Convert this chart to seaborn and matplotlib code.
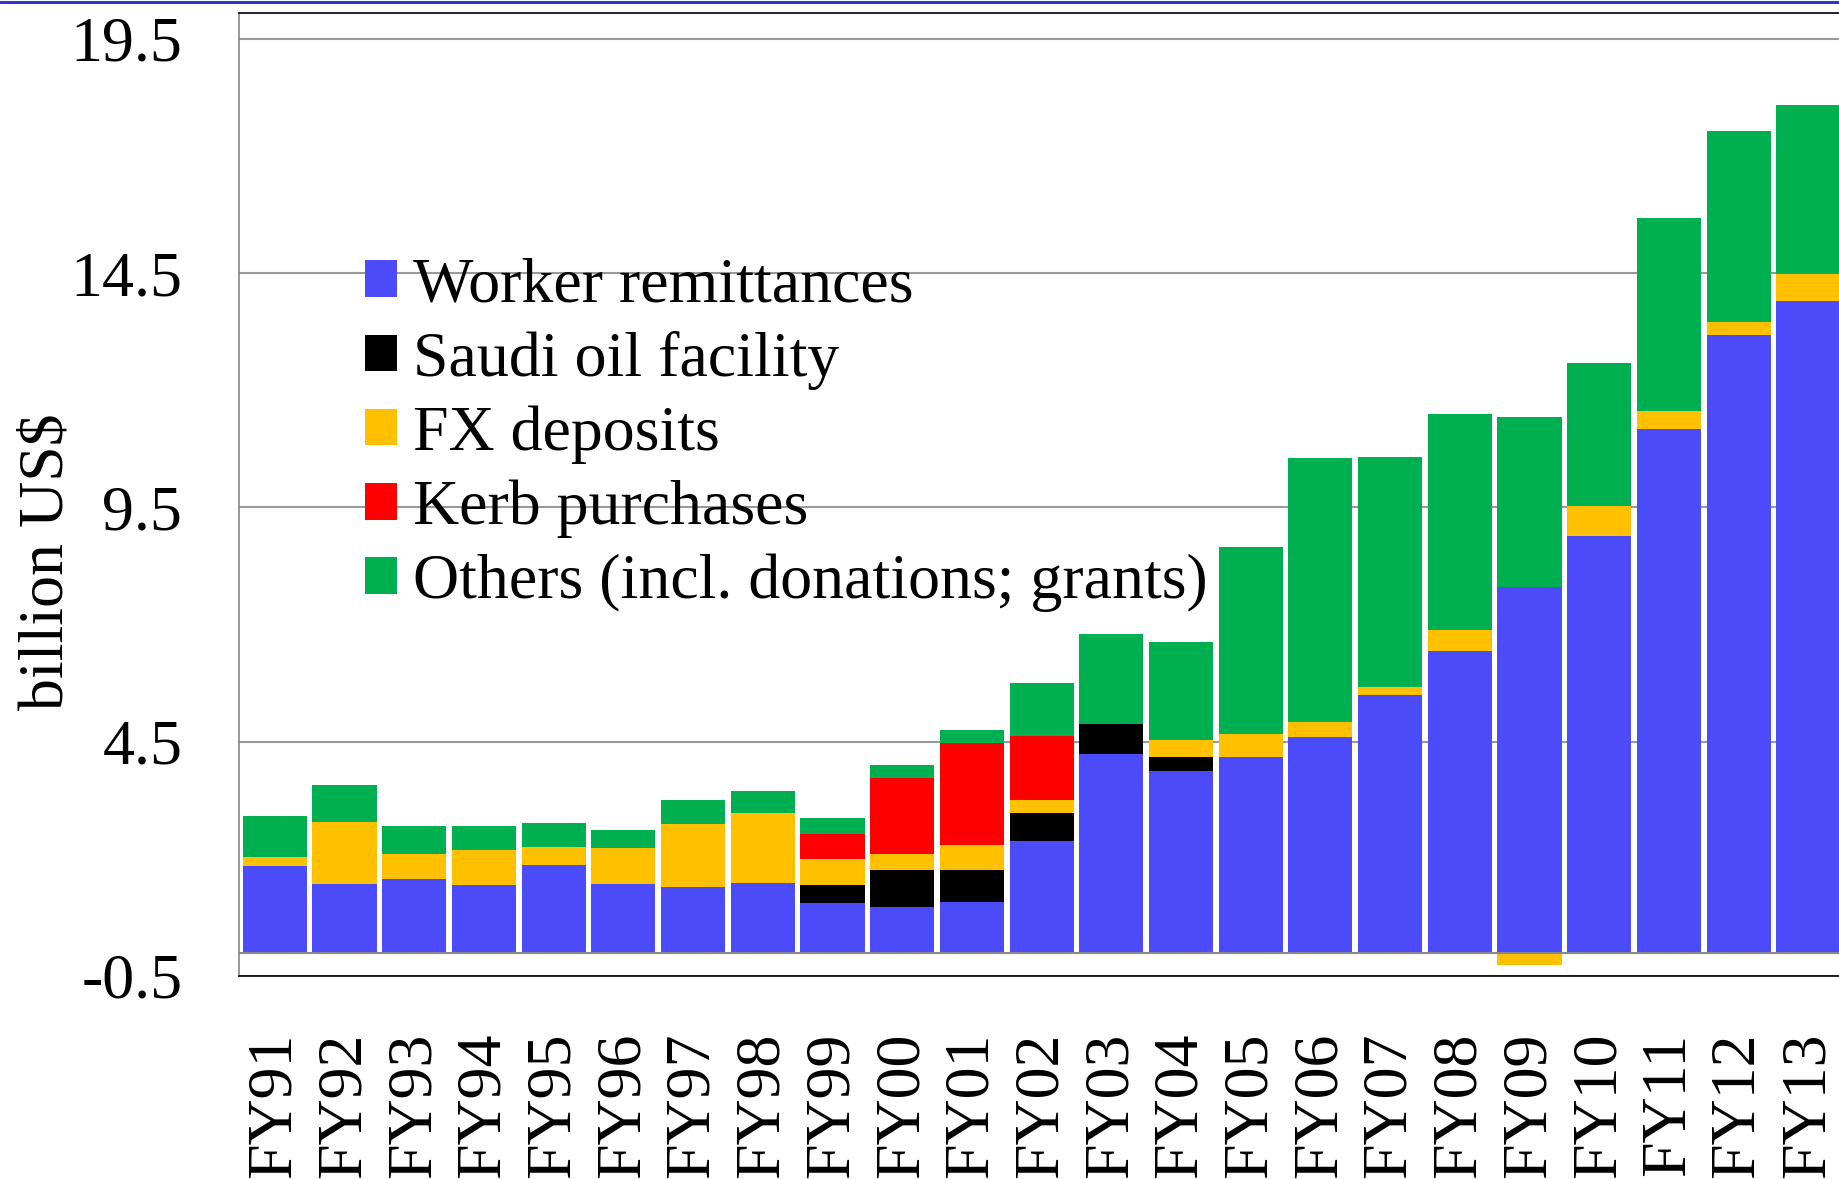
import numpy as np
import pandas as pd
import matplotlib
matplotlib.use('Agg')
import matplotlib.pyplot as plt
import seaborn as sns
from matplotlib.patches import Patch
from matplotlib.lines import Line2D

# values (billion US$)
years = ['FY91', 'FY92', 'FY93', 'FY94', 'FY95', 'FY96', 'FY97', 'FY98', 'FY99', 'FY00',
         'FY01', 'FY02', 'FY03', 'FY04', 'FY05', 'FY06', 'FY07', 'FY08', 'FY09', 'FY10',
         'FY11', 'FY12', 'FY13']
worker = [1.85, 1.47, 1.58, 1.45, 1.87, 1.47, 1.40, 1.49, 1.06, 0.97,
          1.08, 2.38, 4.24, 3.88, 4.17, 4.59, 5.49, 6.44, 7.81, 8.89,
          11.18, 13.17, 13.91]
saudi = [0, 0, 0, 0, 0, 0, 0, 0, 0.39, 0.79,
         0.68, 0.60, 0.64, 0.29, 0, 0, 0, 0, 0, 0,
         0, 0, 0]
fx = [0.19, 1.32, 0.53, 0.74, 0.39, 0.76, 1.34, 1.49, 0.55, 0.35,
      0.54, 0.28, 0, 0.37, 0.50, 0.32, 0.18, 0.45, -0.26, 0.63,
      0.37, 0.28, 0.56]
kerb = [0, 0, 0, 0, 0, 0, 0, 0, 0.53, 1.62,
        2.17, 1.36, 0, 0, 0, 0, 0, 0, 0, 0,
        0, 0, 0]
others = [0.88, 0.79, 0.60, 0.52, 0.51, 0.38, 0.52, 0.47, 0.34, 0.27,
          0.28, 1.13, 1.92, 2.09, 3.98, 5.64, 4.90, 4.60, 3.61, 3.05,
          4.13, 4.09, 3.61]

series = ['Worker remittances', 'Saudi oil facility', 'FX deposits',
          'Kerb purchases', 'Others (incl. donations; grants)']
colors = ['#4b4bf9', '#000000', '#ffc000', '#ff0000', '#00b050']

df = pd.DataFrame({'year': years, series[0]: worker, series[1]: saudi,
                   series[2]: fx, series[3]: kerb, series[4]: others})

sns.set_style('white')
plt.rcParams['font.family'] = ['Liberation Serif', 'DejaVu Serif']
plt.rcParams['text.color'] = 'black'
plt.rcParams['xtick.color'] = 'black'
plt.rcParams['ytick.color'] = 'black'

fig = plt.figure(figsize=(18.39, 11.79), dpi=100)
ax = fig.add_axes([0.1301, 0.1722, 0.8699, 0.8168])

# stacked bars: draw cumulative totals from the top layer down
pos = df[series].clip(lower=0)
cum = pos.cumsum(axis=1)
for name, col in reversed(list(zip(series, colors))):
    sns.barplot(x=df['year'], y=cum[name], color=col, saturation=1,
                width=0.92, linewidth=0, ax=ax, zorder=2)
# negative part (FX deposits in FY09) stacks below zero
sns.barplot(x=df['year'], y=df[series[2]].clip(upper=0), color=colors[2],
            saturation=1, width=0.92, linewidth=0, ax=ax, zorder=2)

ax.set_xlim(-0.51, 22.44)
ax.set_ylim(-0.5, 20.05)
ax.set_yticks([-0.5, 4.5, 9.5, 14.5, 19.5])
ax.set_yticklabels(['-0.5', '4.5', '9.5', '14.5', '19.5'])
ax.set_axisbelow(True)
ax.yaxis.grid(True, color='#999999', lw=1.5)
ax.xaxis.grid(False)
ax.axhline(0, color='#888888', lw=1.5, zorder=3)

ax.tick_params(axis='y', length=0, pad=41, labelsize=46, labelcolor='black')
ax.tick_params(axis='x', length=0, pad=41, labelsize=46, rotation=90,
               labelcolor='black')
ax.set_xlabel('')
ax.set_ylabel('')

for s in ['top', 'bottom']:
    ax.spines[s].set_color('black')
    ax.spines[s].set_linewidth(1.2)
ax.spines['left'].set_color('#888888')
ax.spines['left'].set_linewidth(1.2)
ax.spines['right'].set_visible(False)

fig.text(0.026, 0.5233, 'billion US$', rotation=90, ha='center', va='center',
         fontsize=46, color='black')

handles = [Patch(facecolor=c, edgecolor='none') for c in colors]
ax.legend(handles, series, loc='upper left', bbox_to_anchor=(0.1985, 0.782),
          bbox_transform=fig.transFigure, frameon=False, fontsize=46,
          handlelength=0.5, handleheight=0.5, handletextpad=0.25,
          labelspacing=0.245, borderpad=0, borderaxespad=0,
          labelcolor='black')

# thin blue rule along the top edge
fig.add_artist(Line2D([0, 1], [0.9987, 0.9987], transform=fig.transFigure,
                      color='#3535cc', lw=2.2))

fig.savefig('out.png', dpi=100)
